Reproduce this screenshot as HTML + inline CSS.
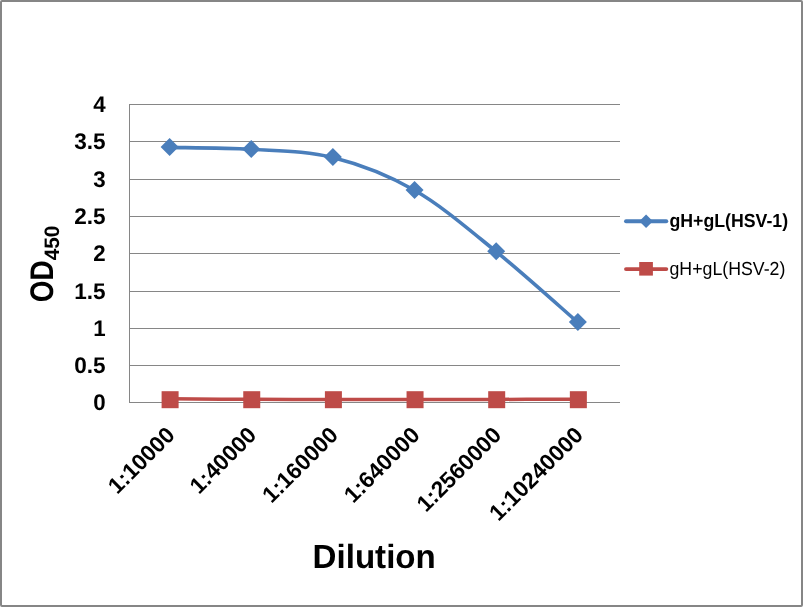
<!DOCTYPE html>
<html><head><meta charset="utf-8"><title>Dilution chart</title>
<style>html,body{margin:0;padding:0;background:#fff;}svg{display:block;}text{text-rendering:geometricPrecision;font-family:"Liberation Sans",sans-serif;fill:#000;}</style></head><body>
<svg width="803" height="607" viewBox="0 0 803 607">
<rect x="0" y="0" width="803" height="607" fill="#fff"/>
<rect x="1" y="1" width="801" height="605" rx="1" ry="1" fill="none" stroke="#868686" stroke-width="2"/>
<rect x="129" y="104" width="491" height="1" fill="#868686"/>
<rect x="129" y="141" width="491" height="1" fill="#868686"/>
<rect x="129" y="179" width="491" height="1" fill="#868686"/>
<rect x="129" y="216" width="491" height="1" fill="#868686"/>
<rect x="129" y="253" width="491" height="1" fill="#868686"/>
<rect x="129" y="291" width="491" height="1" fill="#868686"/>
<rect x="129" y="328" width="491" height="1" fill="#868686"/>
<rect x="129" y="365" width="491" height="1" fill="#868686"/>
<rect x="129" y="402" width="491" height="1" fill="#868686"/>
<rect x="129" y="104" width="1" height="299" fill="#868686"/>
<text x="105.6" y="112.2" text-anchor="end" font-size="22.63" font-weight="bold" textLength="12.41" lengthAdjust="spacingAndGlyphs">4</text>
<text x="105.6" y="149.2" text-anchor="end" font-size="22.63" font-weight="bold" textLength="31.35" lengthAdjust="spacingAndGlyphs">3.5</text>
<text x="105.6" y="187.2" text-anchor="end" font-size="22.63" font-weight="bold" textLength="12.41" lengthAdjust="spacingAndGlyphs">3</text>
<text x="105.6" y="224.2" text-anchor="end" font-size="22.63" font-weight="bold" textLength="31.35" lengthAdjust="spacingAndGlyphs">2.5</text>
<text x="105.6" y="261.2" text-anchor="end" font-size="22.63" font-weight="bold" textLength="12.41" lengthAdjust="spacingAndGlyphs">2</text>
<text x="105.6" y="299.2" text-anchor="end" font-size="22.63" font-weight="bold" textLength="31.35" lengthAdjust="spacingAndGlyphs">1.5</text>
<text x="105.6" y="336.2" text-anchor="end" font-size="22.63" font-weight="bold" textLength="12.41" lengthAdjust="spacingAndGlyphs">1</text>
<text x="105.6" y="373.2" text-anchor="end" font-size="22.63" font-weight="bold" textLength="31.35" lengthAdjust="spacingAndGlyphs">0.5</text>
<text x="105.6" y="410.2" text-anchor="end" font-size="22.63" font-weight="bold" textLength="12.41" lengthAdjust="spacingAndGlyphs">0</text>
<path d="M169.60,147.40 C183.21,147.72 224.03,147.62 251.25,149.30 C278.47,150.98 305.68,150.67 332.90,157.50 C360.12,164.33 387.33,174.62 414.55,190.30 C441.77,205.98 468.98,229.58 496.20,251.60 C523.42,273.62 564.24,310.60 577.85,322.40" fill="none" stroke="#4A7EBB" stroke-width="3.6" stroke-linecap="round"/>
<path d="M169.60,138.00 L178.60,147.00 L169.60,156.00 L160.60,147.00 Z" fill="#4A7EBB"/>
<path d="M251.25,139.90 L260.25,148.90 L251.25,157.90 L242.25,148.90 Z" fill="#4A7EBB"/>
<path d="M332.90,148.10 L341.90,157.10 L332.90,166.10 L323.90,157.10 Z" fill="#4A7EBB"/>
<path d="M414.55,180.90 L423.55,189.90 L414.55,198.90 L405.55,189.90 Z" fill="#4A7EBB"/>
<path d="M496.20,242.20 L505.20,251.20 L496.20,260.20 L487.20,251.20 Z" fill="#4A7EBB"/>
<path d="M577.85,313.00 L586.85,322.00 L577.85,331.00 L568.85,322.00 Z" fill="#4A7EBB"/>
<path d="M169.60,398.80 C183.21,398.88 224.03,399.18 251.25,399.30 C278.47,399.42 305.68,399.48 332.90,399.50 C360.12,399.52 387.33,399.42 414.55,399.40 C441.77,399.38 468.98,399.43 496.20,399.40 C523.42,399.37 564.24,399.23 577.85,399.20" fill="none" stroke="#BE4B48" stroke-width="3.5" stroke-linecap="round"/>
<rect x="161.60" y="391.2" width="17" height="17" fill="#BE4B48"/>
<rect x="243.25" y="391.2" width="17" height="17" fill="#BE4B48"/>
<rect x="324.90" y="391.2" width="17" height="17" fill="#BE4B48"/>
<rect x="406.55" y="391.2" width="17" height="17" fill="#BE4B48"/>
<rect x="488.20" y="391.2" width="17" height="17" fill="#BE4B48"/>
<rect x="569.85" y="391.2" width="17" height="17" fill="#BE4B48"/>
<text transform="translate(176.10,436.30) rotate(-45)" x="0" y="0" text-anchor="end" font-size="22.63" font-weight="bold" textLength="83.19" lengthAdjust="spacingAndGlyphs">1:10000</text>
<text transform="translate(257.75,436.30) rotate(-45)" x="0" y="0" text-anchor="end" font-size="22.63" font-weight="bold" textLength="83.19" lengthAdjust="spacingAndGlyphs">1:40000</text>
<text transform="translate(339.40,436.30) rotate(-45)" x="0" y="0" text-anchor="end" font-size="22.63" font-weight="bold" textLength="95.90" lengthAdjust="spacingAndGlyphs">1:160000</text>
<text transform="translate(421.05,436.30) rotate(-45)" x="0" y="0" text-anchor="end" font-size="22.63" font-weight="bold" textLength="95.90" lengthAdjust="spacingAndGlyphs">1:640000</text>
<text transform="translate(502.70,436.30) rotate(-45)" x="0" y="0" text-anchor="end" font-size="22.63" font-weight="bold" textLength="108.61" lengthAdjust="spacingAndGlyphs">1:2560000</text>
<text transform="translate(584.35,436.30) rotate(-45)" x="0" y="0" text-anchor="end" font-size="22.63" font-weight="bold" textLength="121.32" lengthAdjust="spacingAndGlyphs">1:10240000</text>
<text x="374.2" y="567.6" text-anchor="middle" font-size="33.57" font-weight="bold" textLength="123.24" lengthAdjust="spacingAndGlyphs">Dilution</text>
<text transform="translate(53.2,302.2) rotate(-90)" font-size="32.69" font-weight="bold"><tspan textLength="41.90" lengthAdjust="spacingAndGlyphs">OD</tspan><tspan font-size="20.92" dy="6" textLength="34.75" lengthAdjust="spacingAndGlyphs">450</tspan></text>
<line x1="626" y1="221.3" x2="666.3" y2="221.3" stroke="#4A7EBB" stroke-width="3.9" stroke-linecap="round"/>
<path d="M646.10,214.50 L652.90,221.30 L646.10,228.10 L639.30,221.30 Z" fill="#4A7EBB"/>
<line x1="626" y1="269.1" x2="666.3" y2="269.1" stroke="#BE4B48" stroke-width="3.9" stroke-linecap="round"/>
<rect x="639.2" y="262" width="13.7" height="13.6" fill="#BE4B48"/>
<text x="669.5" y="226.8" font-size="18.86" font-weight="bold" textLength="118.61" lengthAdjust="spacingAndGlyphs">gH+gL(HSV-1)</text>
<text x="669.5" y="274.6" font-size="18.86" textLength="115.86" lengthAdjust="spacingAndGlyphs">gH+gL(HSV-2)</text>
</svg></body></html>
